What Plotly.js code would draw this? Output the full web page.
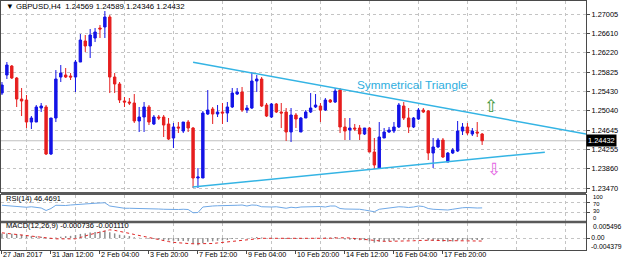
<!DOCTYPE html>
<html><head><meta charset="utf-8">
<script src="https://cdn.plot.ly/plotly-3.0.1.min.js"></script>
<style>html,body{margin:0;padding:0;background:#fff;overflow:hidden}#chart{width:624px;height:259px}</style>
</head><body><div id="chart"></div>
<script>
// ---- data (H4 candles, index 0 = first visible bar) ----
const openVals = [1.25403,1.25770,1.25953,1.25709,1.25281,1.25261,1.24813,1.24813,1.25098,1.25119,
1.24162,1.24895,1.25729,1.25770,1.25749,1.25729,1.26034,1.26462,1.26360,1.26523,
1.26726,1.26747,1.26950,1.25729,1.25587,1.25241,1.25220,1.25200,1.24834,1.24915,
1.25119,1.24773,1.24915,1.24915,1.24773,1.24488,1.24712,1.24630,1.24813,1.24691,
1.23674,1.23674,1.24976,1.25078,1.24976,1.25017,1.24996,1.25119,1.25383,1.25424,
1.25057,1.25098,1.25648,1.25688,1.25159,1.24915,1.25180,1.25017,1.25017,1.24610,
1.24956,1.24610,1.24895,1.25017,1.25119,1.25139,1.25057,1.25261,1.25220,1.25464,
1.24712,1.24650,1.24691,1.24691,1.24569,1.24691,1.24203,1.23877,1.24488,1.24610,
1.24630,1.24712,1.25139,1.24895,1.24712,1.24874,1.25057,1.25037,1.24182,1.24305,
1.24447,1.23999,1.24182,1.24223,1.24630,1.24712,1.24569,1.24610,1.24569];
const highVals = [1.25627,1.26034,1.25973,1.25729,1.25505,1.25363,1.24935,1.25159,1.25200,1.25159,
1.24895,1.25871,1.25973,1.25912,1.25810,1.26075,1.26604,1.26584,1.26706,1.26726,
1.26787,1.27072,1.26991,1.25810,1.25627,1.25322,1.25302,1.25383,1.25119,1.25220,
1.25159,1.24956,1.24956,1.24956,1.24895,1.24793,1.24813,1.24813,1.24854,1.24712,
1.23877,1.25037,1.25464,1.25119,1.25159,1.25200,1.25220,1.25505,1.25505,1.25526,
1.25159,1.25831,1.25770,1.25729,1.25200,1.25200,1.25200,1.25200,1.25098,1.25098,
1.24996,1.24915,1.25057,1.25403,1.25383,1.25200,1.25302,1.25281,1.25505,1.25505,
1.24895,1.24895,1.24773,1.24752,1.24691,1.24712,1.24488,1.24813,1.24691,1.24712,
1.24813,1.25200,1.25220,1.25098,1.24915,1.25098,1.25098,1.25057,1.24488,1.24488,
1.24488,1.24203,1.24284,1.24834,1.24793,1.24793,1.24691,1.24813,1.24589];
const lowVals = [1.25363,1.25688,1.25688,1.25119,1.24935,1.24691,1.24671,1.24813,1.25017,1.24142,
1.24142,1.24813,1.25627,1.25709,1.25668,1.25424,1.26034,1.26238,1.26116,1.26441,
1.26523,1.26523,1.25403,1.25403,1.25200,1.25119,1.25159,1.24793,1.24610,1.24610,
1.24752,1.24752,1.24854,1.24508,1.24447,1.24284,1.24589,1.24589,1.24610,1.23470,
1.23470,1.23674,1.24956,1.24773,1.24915,1.24773,1.24813,1.25098,1.25363,1.25017,
1.24996,1.25078,1.25424,1.25119,1.24915,1.24895,1.24996,1.24691,1.24427,1.24406,
1.24691,1.24610,1.24895,1.24996,1.25098,1.24813,1.25037,1.25200,1.25200,1.24589,
1.24447,1.24447,1.24630,1.24447,1.24549,1.24203,1.23857,1.23857,1.24488,1.24589,
1.24589,1.24691,1.24854,1.24589,1.24691,1.24854,1.24996,1.24040,1.23877,1.24284,
1.24081,1.23999,1.24162,1.24203,1.24549,1.24549,1.24528,1.24508,1.24346];
const closeVals = [1.25566,1.25973,1.25709,1.25281,1.25241,1.24813,1.24895,1.25119,1.25139,1.24162,
1.24895,1.25688,1.25810,1.25729,1.25729,1.26034,1.26482,1.26360,1.26584,1.26645,
1.26706,1.26950,1.25729,1.25587,1.25261,1.25220,1.25200,1.24834,1.24915,1.25119,
1.24813,1.24915,1.24895,1.24752,1.24467,1.24712,1.24691,1.24813,1.24691,1.23674,
1.23694,1.24996,1.25057,1.24976,1.25017,1.24996,1.25119,1.25403,1.25424,1.25057,
1.25098,1.25648,1.25688,1.25139,1.24935,1.25180,1.25017,1.24996,1.24610,1.24956,
1.24874,1.24895,1.25017,1.25098,1.25159,1.25057,1.25261,1.25220,1.25444,1.24712,
1.24630,1.24691,1.24671,1.24569,1.24691,1.24203,1.23938,1.24508,1.24610,1.24650,
1.24712,1.25159,1.24895,1.24712,1.24895,1.25057,1.25017,1.24182,1.24305,1.24447,
1.24101,1.24182,1.24243,1.24630,1.24712,1.24589,1.24630,1.24589,1.24432];
const rsiVals = [57,55,52,50,50,49,51,49,46,36,
44,57,56,56,58,60,62,62,63,65,
66,67,54,50,47,45,45,45,44,42,
43,42,42,41,40,38,40,41,40,27,
28,50,53,54,55,55,54,56,57,58,
54,58,57,51,49,50,51,49,45,49,
47,50,51,50,51,52,50,54,54,44,
42,42,42,41,38,33,31,41,44,45,
47,51,50,48,50,54,52,44,41,40,
38,38,41,45,47,48,46,46,46.4691];
const macdVals = [0.0017,0.0017,0.0016,0.0014,0.0012,0.0009,0.0007,0.0006,0.0005,-0.0002,
-0.0003,0.0002,0.0005,0.0007,0.0008,0.0011,0.0015,0.0017,0.0020,0.0022,
0.0024,0.0027,0.0021,0.0017,0.0012,0.0009,0.0007,0.0003,0.0001,0.0000,
-0.0003,-0.0004,-0.0005,-0.0007,-0.0009,-0.0010,-0.0011,-0.0011,-0.0012,-0.0021,
-0.0026,-0.0019,-0.0014,-0.0012,-0.0010,-0.0009,-0.0007,-0.0004,-0.0002,-0.0002,
-0.0001,0.0002,0.0004,0.0002,0.0000,0.0001,0.0000,-0.0001,-0.0004,-0.0003,
-0.0004,-0.0003,-0.0002,0.0000,0.0001,0.0000,0.0002,0.0002,0.0004,-0.0002,
-0.0005,-0.0006,-0.0007,-0.0008,-0.0008,-0.0012,-0.0017,-0.0014,-0.0012,-0.0011,
-0.0010,-0.0005,-0.0005,-0.0006,-0.0005,-0.0003,-0.0003,-0.0009,-0.0011,-0.0011,
-0.0013,-0.0014,-0.0013,-0.0009,-0.0008,-0.0008,-0.0007,-0.0007,-0.000736];
const signalVals = [0.0019,0.0017,0.0014,0.0011,0.0009,0.0008,0.0006,0.0004,0.0003,0.0001,
-0.0001,-0.0003,-0.0003,-0.0003,-0.0003,-0.0003,0.0002,0.0008,0.0013,0.0017,
0.0022,0.0027,0.0030,0.0028,0.0025,0.0021,0.0017,0.0013,0.0009,0.0005,
0.0001,-0.0003,-0.0007,-0.0010,-0.0013,-0.0016,-0.0018,-0.0019,-0.0020,-0.0021,
-0.0021,-0.0021,-0.0021,-0.0020,-0.0018,-0.0016,-0.0014,-0.0012,-0.0009,-0.0007,
-0.0005,-0.0003,-0.0001,-0.0001,-0.0001,-0.0001,-0.0001,-0.0002,-0.0002,-0.0003,
-0.0003,-0.0003,-0.0003,-0.0003,-0.0002,-0.0002,-0.0001,-0.0001,0.0000,0.0001,
0.0001,0.0000,-0.0002,-0.0003,-0.0005,-0.0007,-0.0009,-0.0010,-0.0012,-0.0012,
-0.0012,-0.0011,-0.0011,-0.0010,-0.0010,-0.0009,-0.0008,-0.0008,-0.0008,-0.0009,
-0.0009,-0.0010,-0.0010,-0.0010,-0.0011,-0.0011,-0.0011,-0.0011,-0.001110];
const timeTickIdx = [0,10,20,30,40,50,60,70,80,90];
const timeTickText = ['27 Jan 2017','31 Jan 12:00','2 Feb 04:00','3 Feb 20:00','7 Feb 12:00','9 Feb 04:00','10 Feb 20:00','14 Feb 12:00','16 Feb 04:00','17 Feb 20:00'];
const priceTicks = [1.23470,1.23860,1.24255,1.24645,1.25040,1.25430,1.25825,1.26220,1.26610,1.27005];
const rsiLevels = [100,70,30,0];
const upperLineX = [39, 119.2], upperLineY = [1.2603, 1.2457];
const lowerLineX = [38.9, 110.8], lowerLineY = [1.2349, 1.2420];
const macdMax = 0.005496, macdMin = -0.004379;
const symbol = 'GBPUSD,H4';

// ---- layout helpers ----
const W = 624, H = 259, L = 1, R = 586, T = 1, B = 250;
const py = p => (B - p) / (B - T);
const pxp = p => (p - L) / (R - L);
const FONT = 'Liberation Sans, Arial, sans-serif';
const gridCol = '#c4c4c4', frameCol = '#4a4a4a';
const xIdx = openVals.map((_, i) => i);
const last = closeVals.length - 1;

const traces = [
  {type:'candlestick', x:xIdx, open:openVals, high:highVals, low:lowVals, close:closeVals,
   xaxis:'x', yaxis:'y', whiskerwidth:0, hoverinfo:'skip',
   increasing:{line:{color:'#1414e6', width:1}, fillcolor:'#1414e6'},
   decreasing:{line:{color:'#e61e1e', width:1}, fillcolor:'#e61e1e'}},
  {type:'scatter', mode:'lines', x:upperLineX, y:upperLineY, xaxis:'x', yaxis:'y',
   line:{color:'#34b4e4', width:1.5}, hoverinfo:'skip'},
  {type:'scatter', mode:'lines', x:lowerLineX, y:lowerLineY, xaxis:'x', yaxis:'y',
   line:{color:'#34b4e4', width:1.5}, hoverinfo:'skip'},
  {type:'scatter', mode:'lines', x:xIdx, y:rsiVals, xaxis:'x2', yaxis:'y2',
   line:{color:'#6fa8e6', width:1}, hoverinfo:'skip'},
  {type:'bar', x:xIdx, y:macdVals, xaxis:'x3', yaxis:'y3', width:0.3,
   marker:{color:'#8e8e8e', line:{width:0}}, hoverinfo:'skip'},
  {type:'scatter', mode:'lines', x:xIdx, y:signalVals, xaxis:'x3', yaxis:'y3',
   line:{color:'#e02828', width:1, dash:'dot'}, hoverinfo:'skip'}
];

const xCommon = {range:[-0.2,119.2], zeroline:false, showgrid:false, showline:true, mirror:true,
  linecolor:frameCol, linewidth:1, tickmode:'array', tickvals:timeTickIdx, ticktext:timeTickText,
  minor:{tickmode:'linear', tick0:5, dtick:10, showgrid:true, gridcolor:gridCol, griddash:'dot', gridwidth:1},
  fixedrange:true, showticklabels:false};
const yCommon = {side:'right', zeroline:false, showline:true, mirror:true, linecolor:frameCol, linewidth:1,
  ticks:'outside', ticklen:3, tickcolor:frameCol, showgrid:true, gridcolor:gridCol, griddash:'dot',
  tickfont:{family:FONT, size:7.4, color:'#000'}, fixedrange:true, tickmode:'array'};

const fmt = v => v.toFixed(5);
const ann = (text, xpix, ypix, opts) => Object.assign({text, xref:'paper', yref:'paper', x:pxp(xpix), y:py(ypix),
  xanchor:'left', yanchor:'middle', showarrow:false, font:{family:FONT, size:7.5, color:'#000'}}, opts||{});

// right-hand labels of the RSI and MACD windows (pixel rows chosen so they stack like the reference)
const rsiLabelRows = [197, 204, 211, 218];
const rsiLabelAnns = rsiLevels.map((v, i) => ann(String(v), 586, rsiLabelRows[i], {xshift:5, font:{family:FONT, size:5.8, color:'#000'}}));
const timeLabelAnns = timeTickIdx.map((v, i) => ({text:timeTickText[i], xref:'x3', yref:'paper', x:v, y:py(254.4),
  xanchor:'left', yanchor:'middle', xshift:-1, showarrow:false, font:{family:FONT, size:7.2, color:'#000'}}));

const layout = {
  width:W, height:H, margin:{l:L, r:W-R, t:T, b:H-B}, paper_bgcolor:'#fff', plot_bgcolor:'#fff',
  showlegend:false, hovermode:false, dragmode:false,
  xaxis:Object.assign({}, xCommon, {anchor:'y', ticks:'', rangeslider:{visible:false}}),
  xaxis2:Object.assign({}, xCommon, {anchor:'y2', matches:'x', ticks:''}),
  xaxis3:Object.assign({}, xCommon, {anchor:'y3', matches:'x', ticks:'outside', ticklen:3, tickcolor:frameCol}),
  yaxis:Object.assign({}, yCommon, {domain:[py(192),1], range:[1.23389,1.27276], tickvals:priceTicks, ticktext:priceTicks.map(fmt)}),
  yaxis2:Object.assign({}, yCommon, {domain:[py(221),py(195)], range:[-6,98], tickvals:[30,70], showticklabels:false}),
  yaxis3:Object.assign({}, yCommon, {domain:[0,py(223)], range:[macdMin,macdMax], tickvals:[0], ticktext:['0.00'], tickfont:{family:FONT, size:6.8, color:'#000'}}),
  shapes:[
    {type:'line', xref:'paper', yref:'y', x0:0, x1:1, y0:closeVals[last], y1:closeVals[last], line:{color:'#c0c0c0', width:1}, layer:'below'},
    {type:'line', xref:'paper', yref:'paper', x0:0, x1:1, y0:py(193.5), y1:py(193.5), line:{color:'#5a5a5a', width:3}},
    {type:'line', xref:'paper', yref:'paper', x0:0, x1:1, y0:py(222), y1:py(222), line:{color:'#5a5a5a', width:2.5}}
  ],
  annotations:[
    ann('\u25BC ' + symbol + '\u00a0\u00a0' + [openVals[last],highVals[last],lowVals[last],closeVals[last]].map(fmt).join(' '), 4, 6.5, {font:{family:FONT, size:7.8, color:'#000'}}),
    ann('RSI(14) ' + rsiVals[last].toFixed(4), 4, 198.7),
    ann('MACD(12,26,9) ' + macdVals[last].toFixed(6) + ' ' + signalVals[last].toFixed(6), 4, 225.8),
    ann(macdMax.toFixed(6), 586, 226.2, {xshift:5, font:{family:FONT, size:6.8, color:'#000'}}),
    ann(macdMin.toFixed(6), 586, 246.4, {xshift:3, font:{family:FONT, size:6.8, color:'#000'}}),
    {text:fmt(closeVals[last]), xref:'paper', yref:'y', x:1, y:closeVals[last], xanchor:'left', yanchor:'middle',
     xshift:0, showarrow:false, bgcolor:'#000', borderpad:1, font:{family:FONT, size:7.4, color:'#fff'}},
    {text:'Symmetrical Triangle', xref:'x', yref:'y', x:83.7, y:1.25566, xanchor:'center', yanchor:'middle',
     showarrow:false, font:{family:FONT, size:11.8, color:'#2eaee0'}},
    {text:'\u21E7', xref:'x', yref:'y', x:99.9, y:1.25149, xanchor:'center', yanchor:'middle',
     showarrow:false, font:{family:'DejaVu Sans', size:17, color:'#3a963a'}},
    {text:'\u21E9', xref:'x', yref:'y', x:100.5, y:1.23867, xanchor:'center', yanchor:'middle',
     showarrow:false, font:{family:'DejaVu Sans', size:17, color:'#e466e4'}}
  ].concat(rsiLabelAnns, timeLabelAnns)
};

Plotly.newPlot('chart', traces, layout, {displayModeBar:false, staticPlot:true});
</script></body></html>
